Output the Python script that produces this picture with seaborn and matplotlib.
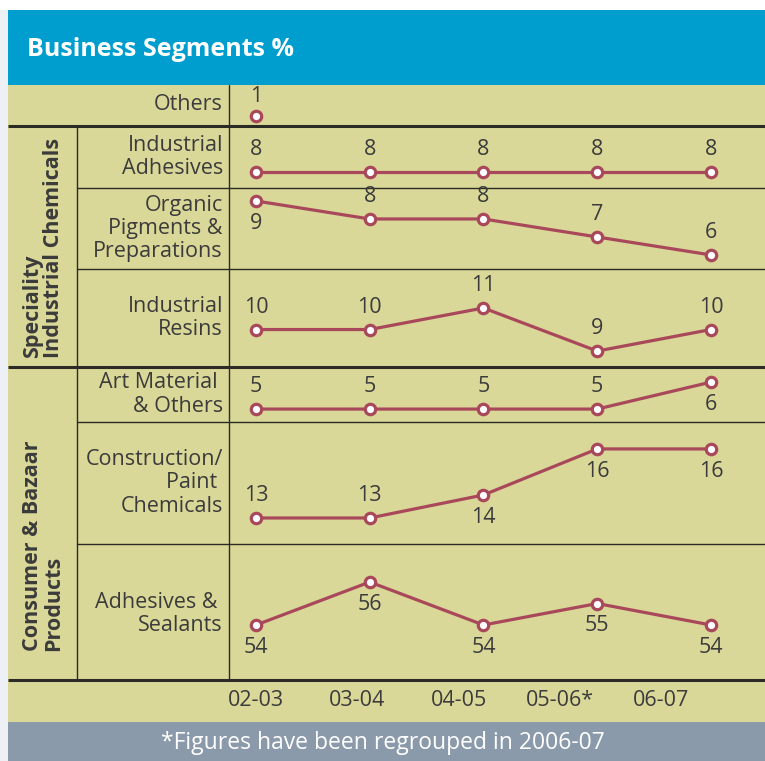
import numpy as np
import pandas as pd
import matplotlib
matplotlib.use('Agg')
import matplotlib.pyplot as plt
import seaborn as sns

# data
years = ['02-03', '03-04', '04-05', '05-06*', '06-07']
segments = ['Others', 'Industrial\nAdhesives', 'Organic\nPigments &\nPreparations', 'Industrial\nResins',
            'Art Material \n& Others', 'Construction/\nPaint \nChemicals', 'Adhesives & \nSealants']
groups = ['Speciality\nIndustrial Chemicals', 'Consumer & Bazaar\nProducts']

others = [1, np.nan, np.nan, np.nan, np.nan]
industrial_adhesives = [8, 8, 8, 8, 8]
organic_pigments = [9, 8, 8, 7, 6]
industrial_resins = [10, 10, 11, 9, 10]
art_material = [5, 5, 5, 5, 6]
construction_paint = [13, 13, 14, 16, 16]
adhesives_sealants = [54, 56, 54, 55, 54]

title = 'Business Segments %'
footnote = '*Figures have been regrouped in 2006-07'

series = [others, industrial_adhesives, organic_pigments, industrial_resins,
          art_material, construction_paint, adhesives_sealants]

# long table for seaborn
df = pd.DataFrame([
    {'segment': seg, 'x': i, 'year': yr, 'value': v}
    for seg, vals in zip(segments, series)
    for i, (yr, v) in enumerate(zip(years, vals))
])

# layout (pixels, from top-left)
W, H = 765, 761
row_top = [85, 126, 188, 269, 367, 422, 544]
row_bot = [126, 188, 269, 367, 422, 544, 680]
row_ylim = [(0.5, 2.55), (7.2, 10.3), (5.22, 9.72), (8.26, 12.81),
            (4.52, 6.56), (11.87, 17.17), (51.44, 57.77)]
# +1 value label above the point, -1 below
label_side = [[1] * 5, [1] * 5, [-1, 1, 1, 1, 1], [1] * 5,
              [1, 1, 1, 1, -1], [1, 1, -1, -1, -1], [-1] * 5]

khaki = '#DAD898'
blue = '#009ECF'
grey_bar = '#8A9AAA'
red = '#A9485A'
ink = '#3B3B3B'
dark = '#2B2B25'

sns.set_style('white')
plt.rcParams['font.family'] = ['Open Sans', 'DejaVu Sans']

fig = plt.figure(figsize=(W / 100, H / 100), dpi=100)
fig.patch.set_facecolor('white')

# background axes in pixel coordinates
bg = fig.add_axes([0, 0, 1, 1])
bg.set_xlim(0, W)
bg.set_ylim(H, 0)
bg.axis('off')
bg.add_patch(plt.Rectangle((0, 10), 8, H - 10, color='#EDF1F5', lw=0))
bg.add_patch(plt.Rectangle((8, 10), W - 8, 75, color=blue, lw=0))
bg.add_patch(plt.Rectangle((8, 85), W - 8, 637, color=khaki, lw=0))
bg.add_patch(plt.Rectangle((8, 722), W - 8, H - 722, color=grey_bar, lw=0))

bg.text(27, 50, title, color='white', fontsize=18, fontweight='bold', va='center', ha='left')
bg.text(383, 743, footnote, color='white', fontsize=16.5, va='center', ha='center')

# grid lines
for y in [126, 367, 680]:
    bg.plot([8, W], [y, y], color=dark, lw=2.2, solid_capstyle='butt')
for y in [188, 269, 422, 544]:
    bg.plot([77, W], [y, y], color=dark, lw=1.0)
bg.plot([77, 77], [126, 680], color=dark, lw=1.0)
bg.plot([229, 229], [85, 680], color=dark, lw=1.0)

# row labels
for seg, t, b in zip(segments, row_top, row_bot):
    centre = {'Others': 104, 'Industrial\nAdhesives': 157, 'Industrial\nResins': 318,
              'Adhesives & \nSealants': 614}.get(seg, (t + b) / 2)
    bg.text(223, centre, seg, color=ink, fontsize=15.5, ha='right', va='center',
            multialignment='right', linespacing=1.15)

# group labels
bg.text(43, 248, groups[0], color=ink, fontsize=15.5, fontweight='bold', rotation=90,
        ha='center', va='center', multialignment='left', linespacing=1.05)
bg.text(43, 546, groups[1], color=ink, fontsize=15.5, fontweight='bold', rotation=90,
        ha='center', va='center', multialignment='left', linespacing=1.05)

# one axes per segment row
x_lim = (-0.237, 4.475)
for k, seg in enumerate(segments):
    t, b = row_top[k], row_bot[k]
    ax = fig.add_axes([229 / W, 1 - b / H, (W - 229) / W, (b - t) / H])
    ax.patch.set_alpha(0)
    sub = df[df['segment'] == seg].dropna()
    sns.lineplot(data=sub, x='x', y='value', ax=ax, color=red, lw=2.3,
                 marker='o', markersize=7.5, markerfacecolor='white',
                 markeredgecolor=red, markeredgewidth=2.3, clip_on=False)
    for (_, r) in sub.iterrows():
        side = label_side[k][int(r['x'])]
        off = 14 if k == 0 else 16
        ax.annotate(f"{r['value']:.0f}", (r['x'], r['value']), xytext=(0, off * side),
                    textcoords='offset points', ha='center', va='center',
                    color=ink, fontsize=15.5)
    ax.set_xlim(*x_lim)
    ax.set_ylim(*row_ylim[k])
    ax.axis('off')

# year labels axis
axx = fig.add_axes([229 / W, 1 - 722 / H, (W - 229) / W, 42 / H])
axx.patch.set_alpha(0)
axx.set_xlim(-0.267, 5.027)
axx.set_ylim(0, 1)
axx.axis('off')
for i, yr in enumerate(years):
    axx.text(i, 0.5, yr, ha='center', va='center', color=ink, fontsize=15.5)

fig.savefig('out.png', dpi=100)
